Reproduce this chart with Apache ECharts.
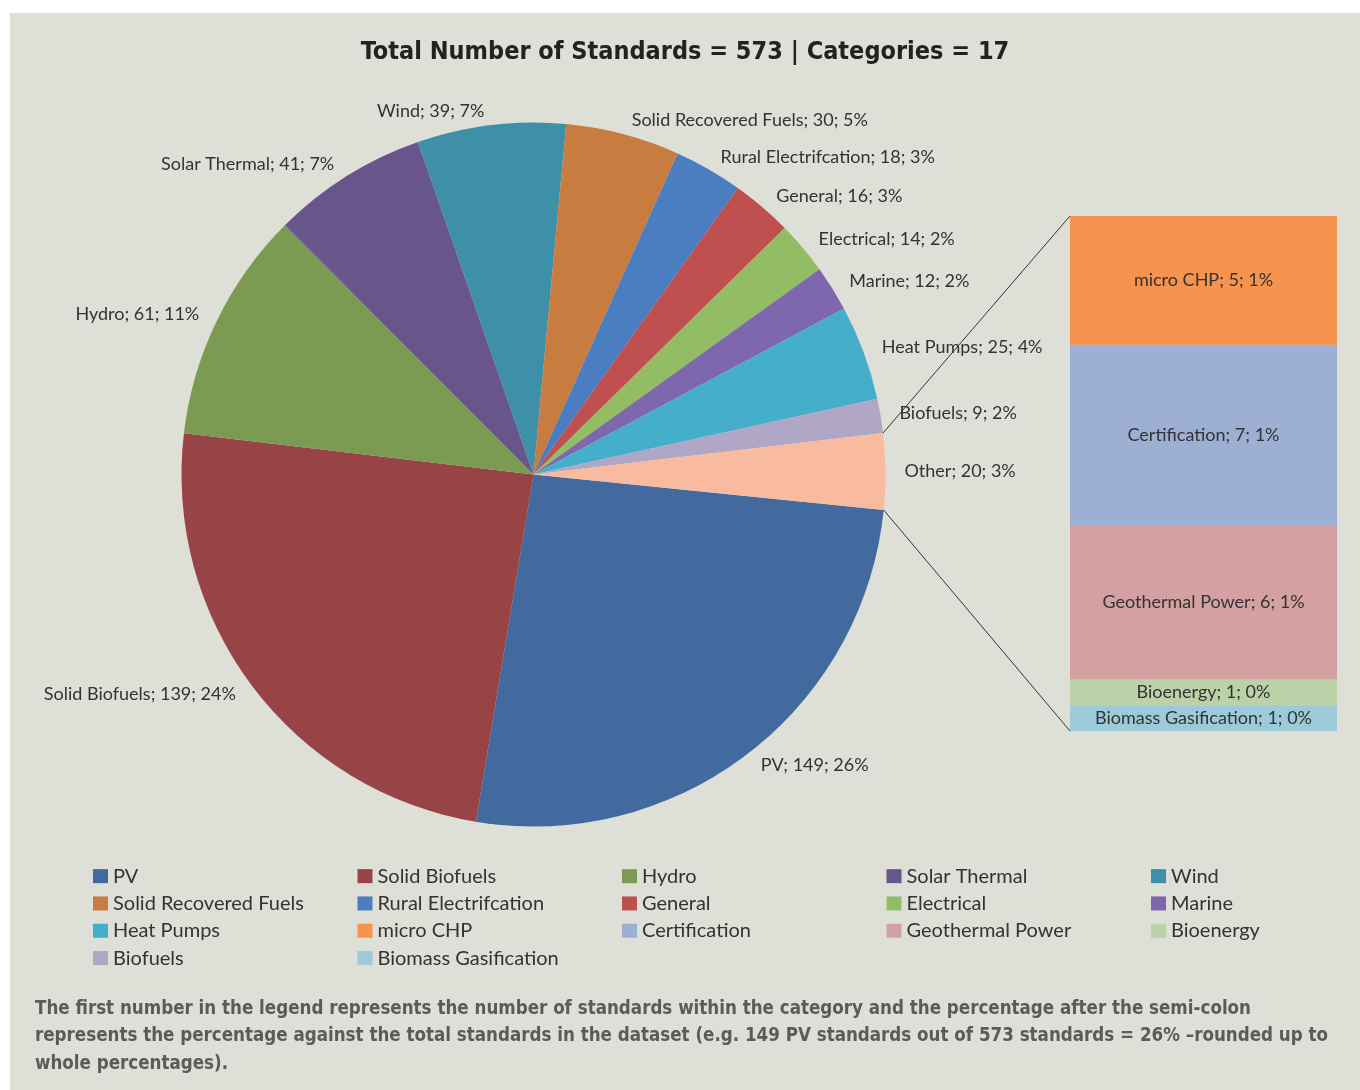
<!DOCTYPE html>
<html>
<head>
<meta charset="utf-8">
<style>
  html, body { margin: 0; padding: 0; background: #ffffff; }
  #chart { position: absolute; left: 10px; top: 13px; width: 1350px; height: 1077px; }
</style>
<script src="https://cdn.jsdelivr.net/npm/echarts@6/dist/echarts.min.js"></script>
</head>
<body>
<div id="chart"></div>
<script>
// pie slices, clockwise from the right
const pieNames = ['PV', 'Solid Biofuels', 'Hydro', 'Solar Thermal', 'Wind', 'Solid Recovered Fuels',
  'Rural Electrifcation', 'General', 'Electrical', 'Marine', 'Heat Pumps', 'Biofuels', 'Other']
const pieValues = [149, 139, 61, 41, 39, 30, 18, 16, 14, 12, 25, 9, 20]
const pieColors = ['#426a9f', '#984446', '#7b9b53', '#67558c', '#3e8fa8', '#c97c40',
  '#4a7ec1', '#c05050', '#93bd64', '#7e67ad', '#44aecb', '#b0a6c6', '#f9bba0']

// breakdown of "Other", top to bottom
const barNames = ['micro CHP', 'Certification', 'Geothermal Power', 'Bioenergy', 'Biomass Gasification']
const barValues = [5, 7, 6, 1, 1]
const barColors = ['#f6934f', '#9db0d3', '#d4a0a2', '#bbd1a7', '#9ccad9']

const legendOrder = ['PV', 'Solid Biofuels', 'Hydro', 'Solar Thermal', 'Wind',
  'Solid Recovered Fuels', 'Rural Electrifcation', 'General', 'Electrical', 'Marine',
  'Heat Pumps', 'micro CHP', 'Certification', 'Geothermal Power', 'Bioenergy',
  'Biofuels', 'Biomass Gasification']

const titleText = 'Total Number of Standards = 573 | Categories = 17'
const noteLines = [
  'The first number in the legend represents the number of standards within the category and the percentage after the semi-colon',
  'represents the percentage against the total standards in the dataset (e.g. 149 PV standards out of 573 standards = 26% \u2013rounded up to',
  'whole percentages).'
]

const total = pieValues.reduce((a, b) => a + b, 0)
const otherTotal = barValues.reduce((a, b) => a + b, 0)
const pct = v => Math.round(v / total * 100) + '%'

const labelFont = 'Lato, "Open Sans", sans-serif'
const boldFont = '"DejaVu Sans Condensed", "DejaVu Sans", sans-serif'
const textColor = '#333333'

// layout
const pieCenter = [523.5, 461.5]
const pieRadius = 352
const startAngle = -5.8
const barGrid = { left: 1060, top: 203, width: 267, height: 515 }

const chart = echarts.init(document.getElementById('chart'))

const barSeries = barNames.map((name, i) => ({ name, value: barValues[i], color: barColors[i] }))
  .reverse()
  .map(d => ({
    name: d.name,
    type: 'bar',
    stack: 'other',
    barWidth: '100%',
    data: [d.value],
    itemStyle: { color: d.color },
    label: {
      show: true,
      position: 'inside',
      color: textColor,
      fontFamily: labelFont,
      fontSize: 18,
      formatter: p => `${p.seriesName}; ${p.value}; ${pct(p.value)}`
    },
    emphasis: { disabled: true }
  }))

const option = {
  backgroundColor: '#dedfd6',
  animation: false,
  title: [
    {
      text: titleText,
      left: 'center',
      top: 22,
      textStyle: {
        fontFamily: boldFont,
        fontWeight: 'bold',
        fontSize: 25,
        color: '#222222'
      }
    },
    {
      text: noteLines.join('\n'),
      left: 20,
      top: 977,
      textStyle: {
        fontFamily: boldFont,
        fontWeight: 'bold',
        fontSize: 18.6,
        lineHeight: 27.5,
        color: '#5b5b5b'
      }
    }
  ],
  legend: {
    data: legendOrder,
    left: 78,
    top: 847,
    width: 1330,
    itemWidth: 15,
    itemHeight: 14,
    itemGap: 5,
    icon: 'rect',
    selectedMode: false,
    textStyle: {
      fontFamily: labelFont,
      fontSize: 20,
      color: textColor,
      width: 239.5,
      lineHeight: 22.3
    }
  },
  grid: barGrid,
  xAxis: { type: 'category', data: ['Other'], show: false },
  yAxis: { type: 'value', min: 0, max: otherTotal, show: false },
  series: [
    {
      name: 'Standards',
      type: 'pie',
      center: pieCenter,
      radius: pieRadius,
      startAngle: startAngle,
      clockwise: true,
      avoidLabelOverlap: false,
      data: pieNames.map((name, i) => ({
        name,
        value: pieValues[i],
        itemStyle: { color: pieColors[i] }
      })),
      label: {
        show: true,
        position: 'outside',
        color: textColor,
        fontFamily: labelFont,
        fontSize: 18,
        distanceToLabelLine: 5,
        formatter: p => `${p.name}; ${p.value}; ${pct(p.value)}`
      },
      labelLine: { show: false, length: 14, length2: 0 },
      emphasis: { disabled: true }
    },
    ...barSeries
  ]
}

chart.setOption(option)

// connector lines from the "Other" slice to the bar
const otherIdx = pieNames.indexOf('Other')
const toRad = d => d * Math.PI / 180
const aTop = toRad(startAngle + pieValues[otherIdx] / total * 360)
const aBottom = toRad(startAngle)
const barTopY = chart.convertToPixel({ yAxisIndex: 0 }, otherTotal)
const barBottomY = chart.convertToPixel({ yAxisIndex: 0 }, 0)
const edgePoint = a => [pieCenter[0] + pieRadius * Math.cos(a), pieCenter[1] - pieRadius * Math.sin(a)]

chart.setOption({
  graphic: [
    {
      type: 'line',
      shape: { x1: edgePoint(aTop)[0], y1: edgePoint(aTop)[1], x2: barGrid.left, y2: barTopY },
      style: { stroke: '#333333', lineWidth: 1 },
      silent: true
    },
    {
      type: 'line',
      shape: { x1: edgePoint(aBottom)[0], y1: edgePoint(aBottom)[1], x2: barGrid.left, y2: barBottomY },
      style: { stroke: '#333333', lineWidth: 1 },
      silent: true
    }
  ]
})
</script>
</body>
</html>
